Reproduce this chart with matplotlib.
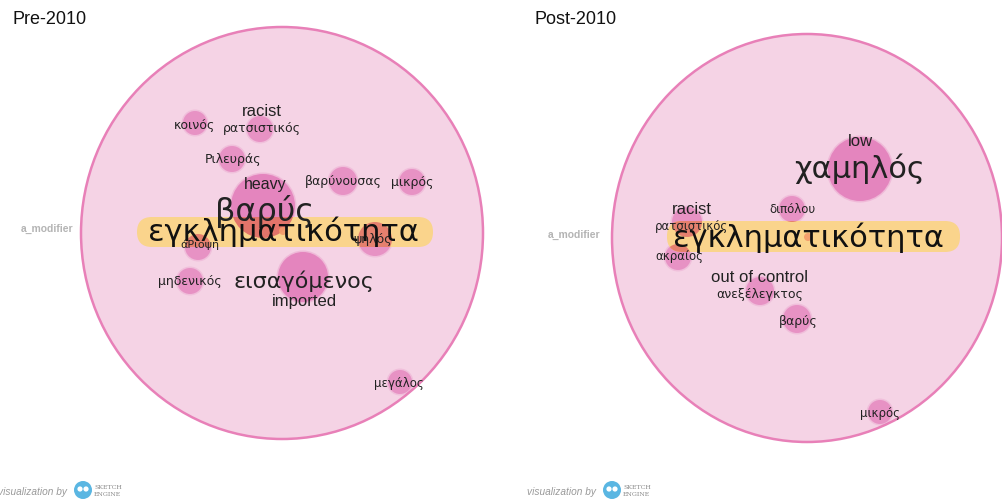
import matplotlib
matplotlib.use("Agg")
import matplotlib.pyplot as plt
from matplotlib.patches import Ellipse, Circle, FancyBboxPatch
from matplotlib.colors import to_rgb

# ---------------- data ----------------
panel_titles = ["Pre-2010", "Post-2010"]
node_word = "εγκληματικότητα"
relation = "a_modifier"

# Pre-2010 collocates
pre_words = ["κοινός", "ρατσιστικός", "Ριλευράς", "βαρύνουσας", "μικρός", "βαρύς",
             "ψηλός", "άΡιοψη", "μηδενικός", "εισαγόμενος", "μεγάλος"]
pre_trans = ["", "racist", "", "", "", "heavy", "", "", "", "imported", ""]
pre_x = [195, 260, 232, 343, 412, 263, 375, 198, 190, 303, 400]
pre_y = [124, 130, 160, 182, 183, 207, 240, 248, 282, 278, 383]
pre_freq = [12, 13, 13, 14, 13, 32, 17, 13, 13, 25, 12]
pre_score = [9, 9, 9, 9, 9, 23, 9, 8, 9, 16, 8.5]
pre_lx = [195, 262, 233, 343, 412, 265, 373, 200, 190, 304, 399]
pre_ly = [125, 129, 160, 182, 183, 212, 240, 245, 282, 281, 384]

# Post-2010 collocates
post_words = ["χαμηλός", "διπόλου", "ρατσιστικός", "ακραίος", "ανεξέλεγκτος", "βαρύς", "μικρός"]
post_trans = ["low", "", "racist", "", "out of control", "", ""]
post_x = [860, 792, 687, 678, 760, 797, 880]
post_y = [170, 210, 223, 258, 292, 320, 413]
post_freq = [32, 13, 15, 13, 14, 14, 12]
post_score = [22, 8.5, 8.5, 8.5, 9, 9, 8.5]
post_lx = [860, 792, 692, 679, 760, 798, 880]
post_ly = [169, 210, 227, 257, 295, 322, 414]

# ---------------- figure ----------------
W, H = 1003, 502
fig = plt.figure(figsize=(W / 100, H / 100), dpi=100)
ax = fig.add_axes([0, 0, 1, 1])
ax.set_xlim(0, W)
ax.set_ylim(H, 0)
ax.axis("off")

GREEK = ["DejaVu Sans"]
LATIN = ["Liberation Sans", "DejaVu Sans"]

BG_FILL = "#f5d3e5"
BG_EDGE = "#e880b8"
BUB = "#e277b7"
BAND = "#fad48c"


def over(fg, a, bg):
    f, b = to_rgb(fg), to_rgb(bg)
    return tuple(a * fi + (1 - a) * bi for fi, bi in zip(f, b))


def mult(c1, c2):
    return tuple(a * b for a, b in zip(c1, c2))


def draw_panel(title, tx, cx, cy, rx, ry, band, node_xy, words, trans, xs, ys, rs,
               scores, lxs, lys, rel_xy, credit_x):
    ax.text(tx, 20, title, fontsize=13, family=LATIN, va="center", ha="left",
            color="#111111")
    ax.add_patch(Ellipse((cx, cy), 2 * rx, 2 * ry, facecolor=BG_FILL,
                         edgecolor=BG_EDGE, lw=1.8, zorder=1))
    ax.text(rel_xy[0], rel_xy[1], relation, fontsize=7.5, family=LATIN,
            color="#b4b4b4", ha="center", va="center", fontweight="bold", zorder=2)
    # node band
    bx0, by0, bx1, by1 = band
    band_patch = FancyBboxPatch((bx0, by0), bx1 - bx0, by1 - by0,
                                boxstyle="round,pad=0,rounding_size=15",
                                facecolor=BAND, edgecolor="none", zorder=2.5)
    ax.add_patch(band_patch)
    # bubbles (soft edge), multiplied with band where they overlap
    for x, y, r in zip(xs, ys, rs):
        a = 0.78 if r > 20 else 0.62
        ax.add_patch(Circle((x, y), r + 1.5, facecolor=BUB, alpha=a * 0.35,
                            edgecolor="none", zorder=2))
        ax.add_patch(Circle((x, y), r, facecolor=BUB, alpha=a, edgecolor="none",
                            zorder=2))
        col = mult(over(BUB, a, BG_FILL), to_rgb(BAND))
        c = Circle((x, y), r, facecolor=col, edgecolor="none", zorder=3)
        ax.add_patch(c)
        c.set_clip_path(band_patch)
    ax.add_patch(Circle(node_xy, 4, facecolor="#f39a6a", edgecolor="none",
                        alpha=0.9, zorder=3))
    ax.text(node_xy[0], node_xy[1], node_word, fontsize=22, family=GREEK,
            ha="center", va="center", color="#111111", zorder=5)
    # labels
    for w, t, lx, ly, s in zip(words, trans, lxs, lys, scores):
        ax.text(lx, ly, w, fontsize=s, family=GREEK, ha="center", va="center",
                color="#222222", zorder=4)
        if t:
            if t == "imported":
                ax.text(lx, ly + 21, t, fontsize=12, family=LATIN, ha="center",
                        va="center", color="#222222", zorder=4)
            else:
                off = 27 if s > 18 else 17
                fs = 11.5 if t == "heavy" else 12
                ax.text(lx, ly - off, t, fontsize=fs, family=LATIN, ha="center",
                        va="center", color="#222222", zorder=4)
    # credit
    ax.text(credit_x, 492, "visualization by", fontsize=7.3, style="italic",
            family=LATIN, color="#9a9a9a", ha="left", va="center")
    lc = credit_x + 85
    ax.add_patch(Circle((lc, 491), 9, facecolor="#5ab6e2", edgecolor="none"))
    ax.add_patch(Circle((lc - 3, 490), 2.6, facecolor="white", edgecolor="none"))
    ax.add_patch(Circle((lc + 3, 490), 2.6, facecolor="white", edgecolor="none"))
    ax.text(lc + 11, 487.5, "SKETCH", fontsize=4.5, family=["DejaVu Serif"],
            color="#8a8a8a", ha="left", va="center")
    ax.text(lc + 11, 494.5, "ENGINE", fontsize=4.5, family=["DejaVu Serif"],
            color="#8a8a8a", ha="left", va="center")


draw_panel(panel_titles[0], 13, 282, 234, 201, 206, (137, 218, 433, 248), (283, 232),
           pre_words, pre_trans, pre_x, pre_y, pre_freq, pre_score, pre_lx, pre_ly,
           (47, 229), -2)
draw_panel(panel_titles[1], 535, 807, 239, 195, 204, (667, 222, 960, 253), (808, 238),
           post_words, post_trans, post_x, post_y, post_freq, post_score, post_lx,
           post_ly, (574, 235), 527)

fig.savefig("out.png", dpi=100)
